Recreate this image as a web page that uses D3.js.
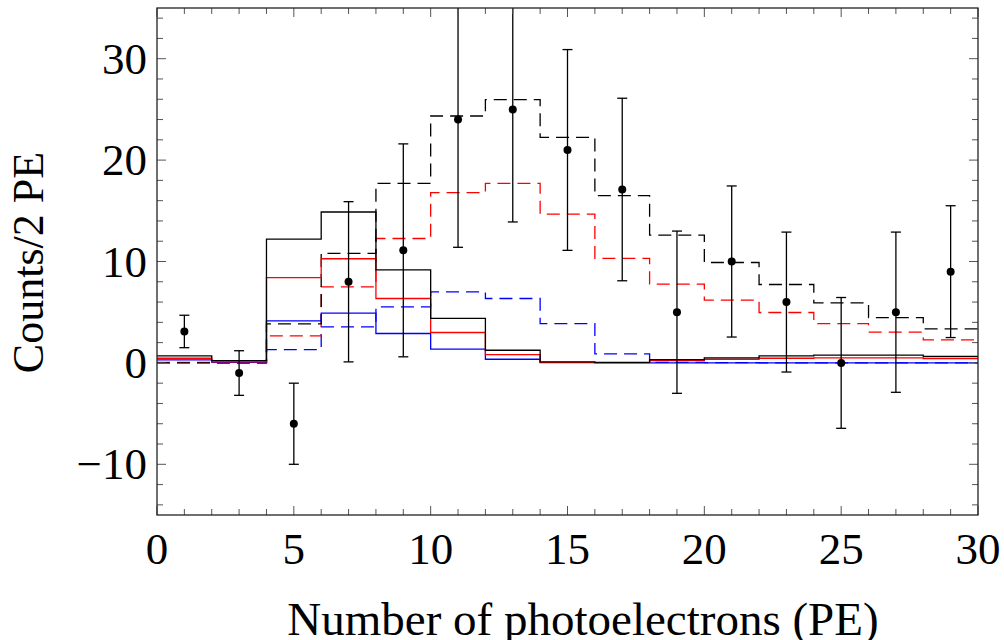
<!DOCTYPE html>
<html>
<head>
<meta charset="utf-8">
<script src="https://cdn.jsdelivr.net/npm/d3@7"></script>
<style>
  body { margin: 0; background: #fff; }
  svg text { font-family: "Liberation Serif", "Times New Roman", serif; fill: #000; }
</style>
</head>
<body>
<svg id="chart" width="1004" height="640"></svg>
<script>
// bin edges 0..30 in steps of 2 (15 bins)
var binEdges = [0, 2, 4, 6, 8, 10, 12, 14, 16, 18, 20, 22, 24, 26, 28, 30];

// histogram contents per bin
var blackSolid = [0.69, 0.23, 12.2, 14.88, 9.18, 4.4, 1.25, 0.1, 0.05, 0.33, 0.5, 0.69, 0.76, 0.76, 0.63];
var redSolid   = [0.46, 0.1, 8.4, 10.27, 6.35, 3.0, 0.82, 0.05, 0.03, 0.23, 0.36, 0.46, 0.49, 0.5, 0.43];
var blueSolid  = [0.3, 0.05, 4.15, 4.9, 2.9, 1.35, 0.36, 0.02, 0.01, 0, 0, 0, 0, 0, 0];
var blackDash  = [0, 0, 3.85, 10.8, 17.7, 24.35, 25.96, 22.24, 16.5, 12.6, 9.9, 7.73, 5.92, 4.47, 3.36];
var redDash    = [0.05, 0.02, 2.67, 7.5, 12.27, 16.8, 17.7, 14.68, 10.3, 7.77, 6.2, 4.97, 3.88, 3.03, 2.27];
var blueDash   = [0.02, 0.01, 1.3, 3.55, 5.53, 7.0, 6.35, 3.88, 0.89, 0.05, 0.02, 0.01, 0, 0, 0];

// measured points with errors
var dataX   = [1, 3, 5, 7, 9, 11, 13, 15, 17, 19, 21, 23, 25, 27, 29];
var dataY   = [3.1, -1, -6, 8, 11.1, 24, 25, 21, 17.1, 5, 10, 6, 0, 5, 9];
var dataErr = [1.6, 2.2, 4, 7.9, 10.5, 12.6, 11.1, 9.9, 9, 8, 7.45, 6.9, 6.45, 7.9, 6.5];

var xTicks = [0, 5, 10, 15, 20, 25, 30];
var yTicks = [-10, 0, 10, 20, 30];

var pLeft = 157, pRight = 978, pTop = 8, pBottom = 515;

var svg = d3.select("#chart");

var x = d3.scaleLinear().domain([0, 30]).range([pLeft, pRight]);
var y = d3.scaleLinear().domain([-15, 35]).range([pBottom, pTop]);

svg.append("defs").append("clipPath").attr("id", "plotclip")
  .append("rect")
  .attr("x", pLeft).attr("y", pTop)
  .attr("width", pRight - pLeft).attr("height", pBottom - pTop);

var plot = svg.append("g").attr("clip-path", "url(#plotclip)");

// step line for a histogram
function stepPath(vals) {
  var pts = [];
  vals.forEach(function(v, i) {
    pts.push([binEdges[i], v]);
    pts.push([binEdges[i + 1], v]);
  });
  return d3.line()
    .x(function(d) { return x(d[0]); })
    .y(function(d) { return y(d[1]); })(pts);
}

var hists = [
  { vals: blueDash, color: "#0000ff", dash: "13,7" },
  { vals: redDash, color: "#ff0000", dash: "13,7" },
  { vals: blackDash, color: "#000", dash: "13,7" },
  { vals: blueSolid, color: "#0000ff", dash: null },
  { vals: redSolid, color: "#ff0000", dash: null },
  { vals: blackSolid, color: "#000", dash: null }
];

hists.forEach(function(h) {
  plot.append("path")
    .attr("d", stepPath(h.vals))
    .attr("fill", "none")
    .attr("stroke", h.color)
    .attr("stroke-width", 1.3)
    .attr("stroke-dasharray", h.dash);
});

// error bars
var pts = dataX.map(function(d, i) { return { x: d, y: dataY[i], e: dataErr[i] }; });

var eb = plot.selectAll(".eb").data(pts).enter().append("g").attr("class", "eb");
eb.append("line")
  .attr("x1", function(d) { return x(d.x); })
  .attr("x2", function(d) { return x(d.x); })
  .attr("y1", function(d) { return y(d.y - d.e); })
  .attr("y2", function(d) { return y(d.y + d.e); })
  .attr("stroke", "#000").attr("stroke-width", 1.3);
eb.append("line")
  .attr("x1", function(d) { return x(d.x) - 5; })
  .attr("x2", function(d) { return x(d.x) + 5; })
  .attr("y1", function(d) { return y(d.y - d.e); })
  .attr("y2", function(d) { return y(d.y - d.e); })
  .attr("stroke", "#000").attr("stroke-width", 1.3);
eb.append("line")
  .attr("x1", function(d) { return x(d.x) - 5; })
  .attr("x2", function(d) { return x(d.x) + 5; })
  .attr("y1", function(d) { return y(d.y + d.e); })
  .attr("y2", function(d) { return y(d.y + d.e); })
  .attr("stroke", "#000").attr("stroke-width", 1.3);
eb.append("circle")
  .attr("cx", function(d) { return x(d.x); })
  .attr("cy", function(d) { return y(d.y); })
  .attr("r", 4)
  .attr("fill", "#000");

// frame ticks: minor + major on all sides
var axisG = svg.append("g");
d3.range(0, 31, 1).forEach(function(v) {
  var len = (v % 5 === 0) ? 9 : 6;
  axisG.append("line").attr("x1", x(v)).attr("x2", x(v)).attr("y1", pBottom).attr("y2", pBottom - len)
    .attr("stroke", "#555").attr("stroke-width", 1);
  axisG.append("line").attr("x1", x(v)).attr("x2", x(v)).attr("y1", pTop).attr("y2", pTop + len)
    .attr("stroke", "#555").attr("stroke-width", 1);
});
d3.range(-14, 35, 2).forEach(function(v) {
  var len = (v % 10 === 0) ? 9 : 6;
  axisG.append("line").attr("x1", pLeft).attr("x2", pLeft + len).attr("y1", y(v)).attr("y2", y(v))
    .attr("stroke", "#555").attr("stroke-width", 1);
  axisG.append("line").attr("x1", pRight).attr("x2", pRight - len).attr("y1", y(v)).attr("y2", y(v))
    .attr("stroke", "#555").attr("stroke-width", 1);
});

axisG.append("rect")
  .attr("x", pLeft).attr("y", pTop)
  .attr("width", pRight - pLeft).attr("height", pBottom - pTop)
  .attr("fill", "none").attr("stroke", "#222").attr("stroke-width", 1.3);

// tick labels
svg.selectAll(".xt").data(xTicks).enter().append("text")
  .attr("x", function(d) { return x(d); })
  .attr("y", 564)
  .attr("text-anchor", "middle")
  .attr("font-size", 45)
  .text(function(d) { return d; });

svg.selectAll(".yt").data(yTicks).enter().append("text")
  .attr("x", pLeft - 10)
  .attr("y", function(d) { return y(d) + 15; })
  .attr("text-anchor", "end")
  .attr("font-size", 45)
  .text(function(d) { return d < 0 ? "\u2212" + Math.abs(d) : d; });

// axis labels
svg.append("text")
  .attr("x", 583)
  .attr("y", 635)
  .attr("text-anchor", "middle")
  .attr("font-size", 47)
  .text("Number of photoelectrons (PE)");

svg.append("text")
  .attr("transform", "translate(43," + ((pTop + pBottom) / 2 + 1) + ") rotate(-90)")
  .attr("text-anchor", "middle")
  .attr("font-size", 44)
  .text("Counts/2 PE");
</script>
</body>
</html>
